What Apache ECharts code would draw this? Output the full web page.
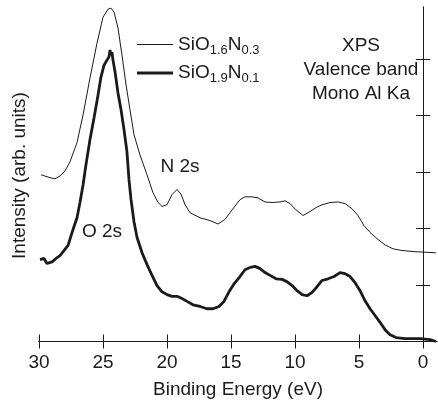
<!DOCTYPE html>
<html>
<head>
<meta charset="utf-8">
<script src="https://cdn.jsdelivr.net/npm/echarts@6/dist/echarts.min.js"></script>
<style>
  html, body { margin: 0; padding: 0; background: #fff; }
  #chart { width: 438px; height: 404px; }
</style>
</head>
<body>
<div id="chart"></div>
<script>
// 结合能 (eV) 与强度 (任意单位)
const thinEnergy = [29.84, 29.14, 28.75, 28.36, 27.97, 27.58, 27.03, 26.56, 26.02, 25.47, 25.0, 24.61, 24.38, 24.14, 23.83, 23.52, 23.2, 22.89, 22.58, 22.11, 21.56, 21.09, 20.7, 20.39, 20.0, 19.61, 19.22, 18.91, 18.59, 18.2, 17.42, 16.64, 16.02, 15.47, 14.92, 14.3, 13.91, 13.36, 12.89, 12.34, 11.8, 11.17, 10.78, 10.39, 9.92, 9.37, 8.83, 8.36, 7.89, 7.27, 6.64, 6.09, 5.55, 5.08, 4.61, 4.14, 3.59, 2.97, 2.34, 1.64, 0.63, -1.0];
const thinIntensity = [2.95, 2.9, 2.88, 2.93, 3.02, 3.18, 3.52, 4.01, 4.66, 5.28, 5.74, 5.88, 5.9, 5.83, 5.55, 5.07, 4.54, 4.1, 3.66, 3.3, 2.95, 2.63, 2.46, 2.39, 2.42, 2.6, 2.69, 2.61, 2.42, 2.28, 2.19, 2.14, 2.08, 2.16, 2.33, 2.51, 2.56, 2.56, 2.54, 2.47, 2.46, 2.47, 2.49, 2.44, 2.33, 2.23, 2.3, 2.37, 2.42, 2.46, 2.47, 2.44, 2.35, 2.23, 2.05, 1.93, 1.82, 1.71, 1.64, 1.61, 1.59, 1.57];

const thickEnergy = [29.92, 29.61, 29.38, 28.98, 28.67, 28.36, 28.05, 27.73, 27.5, 27.27, 27.03, 26.8, 26.56, 26.33, 26.02, 25.7, 25.39, 25.16, 24.92, 24.69, 24.53, 24.45, 24.38, 24.3, 24.22, 24.06, 23.83, 23.59, 23.36, 23.13, 22.97, 22.81, 22.58, 22.34, 21.95, 21.56, 21.17, 20.78, 20.39, 20.0, 19.61, 19.22, 18.83, 18.44, 17.97, 17.42, 16.88, 16.41, 15.94, 15.55, 15.16, 14.77, 14.3, 13.91, 13.52, 13.13, 12.73, 12.34, 11.95, 11.48, 11.02, 10.63, 10.23, 9.84, 9.45, 9.06, 8.67, 8.28, 7.89, 7.42, 6.95, 6.48, 6.09, 5.7, 5.31, 4.92, 4.53, 4.14, 3.75, 3.36, 2.97, 2.58, 2.11, 1.41, 0.23, -0.55, -1.0];
const thickIntensity = [1.45, 1.47, 1.38, 1.41, 1.47, 1.52, 1.61, 1.7, 1.87, 2.03, 2.19, 2.46, 2.77, 3.13, 3.57, 3.96, 4.36, 4.68, 4.89, 4.98, 5.04, 5.16, 5.07, 5.12, 4.98, 4.77, 4.4, 4.1, 3.75, 3.36, 2.86, 2.51, 2.12, 1.84, 1.57, 1.36, 1.17, 0.99, 0.88, 0.83, 0.8, 0.8, 0.76, 0.71, 0.65, 0.62, 0.58, 0.58, 0.62, 0.71, 0.88, 1.02, 1.15, 1.27, 1.31, 1.33, 1.29, 1.22, 1.17, 1.11, 1.1, 1.06, 0.99, 0.9, 0.83, 0.81, 0.87, 0.97, 1.08, 1.11, 1.15, 1.22, 1.2, 1.15, 1.04, 0.9, 0.72, 0.58, 0.46, 0.34, 0.21, 0.12, 0.07, 0.05, 0.05, 0.035, 0.0];

const xTicks = [0, 5, 10, 15, 20, 25, 30];
const yTicks = [0, 1, 2, 3, 4, 5];
// 样品成分 SiO(x)N(y)
const samples = [
  { o: "1.6", n: "0.3" },
  { o: "1.9", n: "0.1" },
];

const font = "'Liberation Sans', Arial, Helvetica, sans-serif";
const ink = "#1a1a1a";
const lineWidths = [1, 2.8];

const zip = (xs, ys) => xs.map((x, i) => [x, ys[i]]);
const nameOf = (s) => `SiO${s.o}N${s.n}`;

const mycharts = echarts.init(document.getElementById("chart"));

const xBase = {
  type: "value",
  inverse: true,
  min: -1.09,
  max: 30,
  splitLine: { show: false },
  axisLine: { show: true, lineStyle: { color: ink, width: 1 } },
  axisTick: { show: true, inside: true, length: 7, customValues: xTicks, lineStyle: { color: ink } },
};
const yBase = {
  type: "value",
  min: -0.044,
  max: 5.92,
  splitLine: { show: false },
  axisLine: { show: true, lineStyle: { color: ink, width: 1 } },
  axisTick: { show: true, inside: true, length: 7, customValues: yTicks, lineStyle: { color: ink } },
  axisLabel: { show: false },
};

const textStyle = { fontFamily: font, fontSize: 19, fill: ink, align: "center", verticalAlign: "middle" };

mycharts.setOption({
  animation: false,
  grid: { left: 39, right: 1, top: 7, bottom: 59.5 },
  legend: {
    orient: "vertical",
    left: 137,
    top: 35,
    padding: 0,
    itemGap: 7,
    itemWidth: 36,
    itemHeight: 14,
    // 图例图标: 细线 / 粗线 (不画圆点)
    data: samples.map((s, i) => ({
      name: nameOf(s),
      icon: `path://M0,0H36V${lineWidths[i]}H0Z`,
      itemStyle: { color: ink },
    })),
    formatter: (name) => {
      const s = samples.find((d) => nameOf(d) === name);
      return `{m|SiO}{s|${s.o}}{m|N}{s|${s.n}}`;
    },
    textStyle: {
      rich: {
        m: { fontFamily: font, fontSize: 19, color: ink, lineHeight: 24 },
        s: { fontFamily: font, fontSize: 13, color: ink, lineHeight: 14, verticalAlign: "bottom" },
      },
    },
  },
  xAxis: [
    {
      ...xBase,
      position: "bottom",
      name: "Binding Energy (eV)",
      nameLocation: "middle",
      nameGap: 36,
      nameTextStyle: { fontFamily: font, fontSize: 19, color: ink },
      axisLabel: { show: true, customValues: xTicks, margin: 9, fontFamily: font, fontSize: 19, color: ink },
    },
    { ...xBase, position: "top", axisLabel: { show: false } },
  ],
  yAxis: [
    {
      ...yBase,
      position: "left",
      name: "Intensity (arb. units)",
      nameLocation: "middle",
      nameGap: 10,
      nameTextStyle: { fontFamily: font, fontSize: 19, color: ink },
    },
    { ...yBase, position: "right" },
  ],
  graphic: [
    {
      type: "text",
      x: 361,
      y: 70,
      style: { ...textStyle, text: "XPS\nValence band\nMono Al Ka", lineHeight: 24 },
    },
    { type: "text", x: 180, y: 167, style: { ...textStyle, text: "N 2s" } },
    { type: "text", x: 102, y: 232, style: { ...textStyle, text: "O 2s" } },
  ],
  series: samples.map((s, i) => ({
    name: nameOf(s),
    type: "line",
    symbol: "none",
    lineStyle: { color: ink, width: lineWidths[i] },
    itemStyle: { color: ink },
    data: i === 0 ? zip(thinEnergy, thinIntensity) : zip(thickEnergy, thickIntensity),
  })),
});
</script>
</body>
</html>
